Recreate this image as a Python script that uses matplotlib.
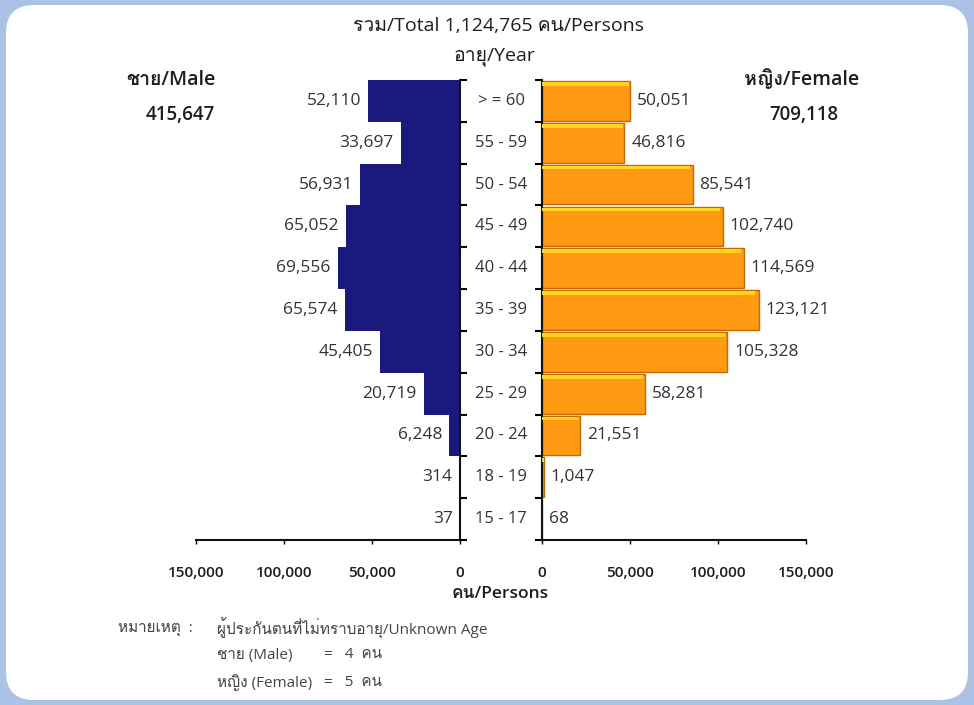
import numpy as np
import matplotlib
matplotlib.use("Agg")
import matplotlib.pyplot as plt
import matplotlib.transforms as mtransforms
from matplotlib import font_manager
from matplotlib.ft2font import FT2Font
from matplotlib.patches import FancyBboxPatch

# look for an installed family that carries Thai glyphs
thai_fams = []
for f in font_manager.fontManager.ttflist:
    try:
        if 0x0E04 in FT2Font(f.fname).get_charmap() and f.name not in thai_fams:
            thai_fams.append(f.name)
    except Exception:
        pass

plt.rcParams['font.family'] = ['Open Sans', 'DejaVu Sans'] + thai_fams

# age groups, oldest first
age_groups = ['> = 60', '55 - 59', '50 - 54', '45 - 49', '40 - 44', '35 - 39',
              '30 - 34', '25 - 29', '20 - 24', '18 - 19', '15 - 17']
male = [52110, 33697, 56931, 65052, 69556, 65574, 45405, 20719, 6248, 314, 37]
female = [50051, 46816, 85541, 102740, 114569, 123121, 105328, 58281, 21551, 1047, 68]
total_all = 1124765
total_male = 415647
total_female = 709118
unknown_male = 4
unknown_female = 5
x_ticks = [0, 50000, 100000, 150000]

W, H = 974, 705
fig = plt.figure(figsize=(W / 100, H / 100), dpi=100)
fig.patch.set_facecolor('#aac2e6')

# white card with rounded corners
card = FancyBboxPatch((6, 5), W - 12, H - 10, boxstyle='round,pad=0,rounding_size=28',
                      transform=None, facecolor='white', edgecolor='none', zorder=0)
fig.add_artist(card)

n = len(age_groups)
pos = np.arange(n)
txt = '#333333'
dark = '#1e1e1e'

def px(x0, x1, y0, y1):
    return [x0 / W, 1 - y1 / H, (x1 - x0) / W, (y1 - y0) / H]

ax_m = fig.add_axes(px(196, 460, 80, 540))
ax_f = fig.add_axes(px(542, 806, 80, 540))

for ax in (ax_m, ax_f):
    ax.set_facecolor('none')
    ax.set_ylim(n - 0.5, -0.5)
    ax.set_yticks(np.arange(n + 1) - 0.5)
    ax.set_xticks(x_ticks)
    ax.set_xticklabels([f'{v:,}' for v in x_ticks], fontsize=11, fontweight='semibold', color=dark)
    ax.tick_params(axis='x', length=3, pad=16, width=1)
    ax.tick_params(axis='y', length=5, width=1.5, labelleft=False, labelright=False)
    ax.spines['top'].set_visible(False)
    for s in ax.spines.values():
        s.set_linewidth(1.5)
        s.set_color('#111111')

# male side, mirrored
ax_m.set_xlim(150000, 0)
ax_m.spines['left'].set_visible(False)
ax_m.yaxis.tick_right()
ax_m.barh(pos, male, height=1.0, color='#1a1a7e', edgecolor='none', zorder=2)
for y, v in zip(pos, male):
    ax_m.annotate(f'{v:,}', (v, y), xytext=(-5, 0), textcoords='offset points',
                  ha='right', va='center', fontsize=12.5, color=txt)

# female side
ax_f.set_xlim(0, 150000)
ax_f.spines['right'].set_visible(False)
ax_f.yaxis.tick_left()
bh = 0.95
ax_f.barh(pos, female, height=bh, color='#ff9a12', edgecolor='#c86800', linewidth=1.0, zorder=2)
# yellow highlight along the top edge of each bar
hh = 0.09
ax_f.barh(pos - bh / 2 + hh / 2 + 0.025, np.array(female) * 0.985, height=hh,
          color='#ffd320', edgecolor='none', zorder=3)
for y, v in zip(pos, female):
    ax_f.annotate(f'{v:,}', (v, y), xytext=(5, 0), textcoords='offset points',
                  ha='left', va='center', fontsize=12.5, color=txt)

# age labels in the gap between the two axes
tr = mtransforms.blended_transform_factory(fig.transFigure, ax_f.transData)
for y, lab in zip(pos, age_groups):
    fig.text(501 / W, y, lab, transform=tr, ha='center', va='center', fontsize=12, color=txt)

def ftext(x, y, s, **kw):
    fig.text(x / W, 1 - y / H, s, **kw)

ftext(499, 26, f'รวม/Total {total_all:,} คน/Persons', ha='center', va='center',
      fontsize=14, color=dark)
ftext(494, 57, 'อายุ/Year', ha='center', va='center', fontsize=14, color=dark)
ftext(171, 80, 'ชาย/Male', ha='center', va='center', fontsize=14, fontweight='semibold', color=dark)
ftext(180, 115, f'{total_male:,}', ha='center', va='center', fontsize=13.5, fontweight='semibold', color=dark)
ftext(802, 80, 'หญิง/Female', ha='center', va='center', fontsize=14, fontweight='semibold', color=dark)
ftext(804, 115, f'{total_female:,}', ha='center', va='center', fontsize=13.5, fontweight='semibold', color=dark)
ftext(500, 594, 'คน/Persons', ha='center', va='center', fontsize=12.5, fontweight='semibold', color=dark)

note_kw = dict(va='center', fontsize=11, color='#444444')
ftext(118, 628, 'หมายเหตุ  :', ha='left', **note_kw)
ftext(217, 628, 'ผู้ประกันตนที่ไม่ทราบอายุ/Unknown Age', ha='left', **note_kw)
ftext(217, 655, 'ชาย (Male)', ha='left', **note_kw)
ftext(324, 655, f'=   {unknown_male}  คน', ha='left', **note_kw)
ftext(217, 683, 'หญิง (Female)', ha='left', **note_kw)
ftext(324, 683, f'=   {unknown_female}  คน', ha='left', **note_kw)

fig.savefig('out.png', dpi=100, facecolor=fig.get_facecolor())
